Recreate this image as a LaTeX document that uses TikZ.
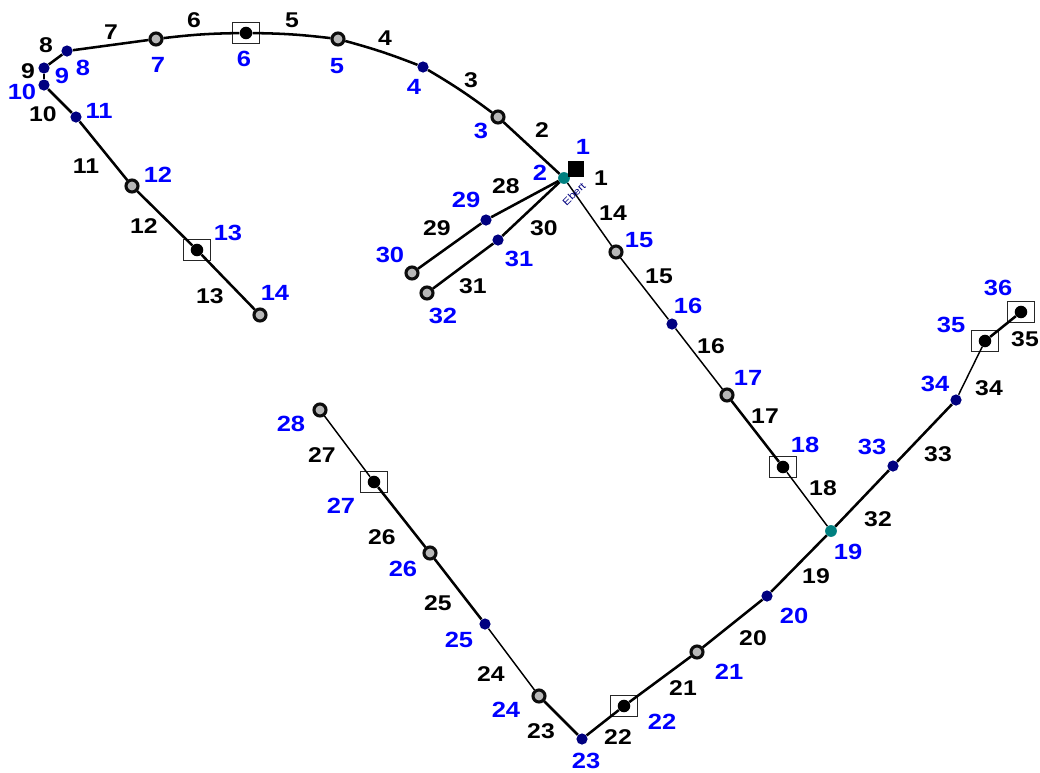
\documentclass[tikz,border=0pt]{standalone}
\usepackage{fontspec}
\setmainfont{Liberation Sans}[FakeStretch=1.16]
\definecolor{navyn}{RGB}{0,0,128}
\definecolor{tealn}{RGB}{0,128,128}
\definecolor{lab}{RGB}{0,0,255}
\tikzset{
 navyd/.style={circle,fill=navyn,inner sep=0pt,minimum size=8.4pt},
 teald/.style={circle,fill=tealn,inner sep=0pt,minimum size=8.8pt},
 grayd/.style={circle,fill=black!28,draw=black!95,line width=2.3pt,inner sep=0pt,minimum size=9pt},
 boxd/.style={circle,fill=black,inner sep=0pt,minimum size=9.4pt},
 boxr/.style={draw=black!85,line width=0.8pt,fill=none,inner sep=0pt,minimum width=20.5pt,minimum height=15.5pt},
 sq/.style={fill=black,inner sep=0pt,minimum size=12pt},
 nl/.style={text=lab,font=\fontsize{16.5}{17}\selectfont\bfseries,inner sep=0pt},
 el/.style={text=black,font=\fontsize{16}{17}\selectfont\bfseries,inner sep=0pt},
 thk/.style={line width=1.9pt,black},
 thn/.style={line width=1.1pt,black},
 x=0.75pt,y=-0.75pt
}
\begin{document}
\begin{tikzpicture}
\useasboundingbox (0,0) rectangle (1040,772);
\fill[white] (0,0) rectangle (1040,772);
% nodes
\foreach \n/\x/\y in {3/498/117,5/338/39,7/156/39,12/132/186,14/260/315,15/616/252,17/727/395,21/697/652,24/539/696,26/430/553,28/320/410,30/412/273,32/427/293}
 \node[grayd] (n\n) at (\x,\y) {};
\foreach \n/\x/\y in {4/423/67,8/67/51,9/44/68,10/44/85,11/76/117,16/672/324,20/767/596,23/582/739,25/485/624,29/486/220,31/498/240,33/893/466,34/956/400}
 \node[navyd] (n\n) at (\x,\y) {};
\foreach \n/\x/\y in {2/564/178,19/831/531}
 \node[teald] (n\n) at (\x,\y) {};
\foreach \n/\x/\y in {6/246/33,13/197/250,18/783/467,22/624/706,27/374/482,35/985/341,36/1021/312}
 {\node[boxd] (n\n) at (\x,\y) {};
  \node[boxr] (b\n) at (\x,\y) {};}
\node[sq] (n1) at (576,169) {};
% connectors
\foreach \a/\b in {2/3,7/8,8/9,9/10,10/11,11/12,12/13,13/14,17/18,19/20,20/21,21/22,22/23,23/24,25/26,26/27,2/29,29/30,2/31,31/32,19/33,33/34,35/36}
 \draw[thk] (n\a) -- (n\b);
\foreach \a/\b in {3/4,4/5,5/6,6/7}
 \draw[thk] (n\a) to[bend right=3] (n\b);
\foreach \a/\b in {2/15,15/16,16/17,18/19,24/25,27/28,34/35}
 \draw[thn] (n\a) -- (n\b);
% node labels
\foreach \t/\x/\y in {1/583/147,2/540/173,3/481/131,4/414/87,5/337/66,6/244/59,7/158/65,8/83/68,9/62/76,10/22/92,11/99/111,12/158/175,13/228/233,14/275/293,15/639/240,16/688/306,17/748/378,18/805/445,19/848/552,20/794/616,21/729/672,22/662/722,23/586/761,24/506/710,25/459/640,26/403/569,27/341/506,28/291/424,29/466/200,30/390/255,31/519/259,32/443/316,33/872/447,34/935/384,35/951/325,36/998/288}
 \node[nl] (t\t) at (\x,\y) {\t};
% edge labels
\foreach \t/\x/\y in {1/601/178,2/542/130,3/471/80,4/385/38,5/292/20,6/194/20,7/111/32,8/46/45,9/28/71,10/43/114,11/86/166,12/144/226,13/210/296,14/613/213,15/659/276,16/711/346,17/765/416,18/823/488,19/816/576,20/753/638,21/683/688,22/618/737,23/541/731,24/491/674,25/438/603,26/382/537,27/322/455,28/506/186,29/437/228,30/544/228,31/473/286,32/878/519,33/938/454,34/989/388,35/1025/339}
 \node[el] (e\t) at (\x,\y) {\t};
\node[text=navyn,font=\fontsize{7.5}{8}\selectfont,rotate=45,inner sep=0pt] (st) at (574,194) {Ebert};
\end{tikzpicture}
\end{document}
